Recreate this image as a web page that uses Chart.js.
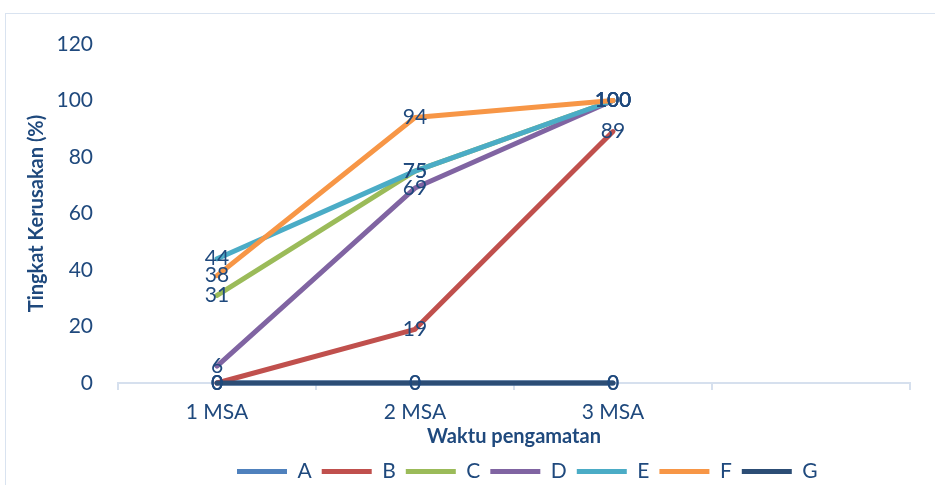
<!DOCTYPE html>
<html>
<head>
<meta charset="utf-8">
<script src="https://cdn.jsdelivr.net/npm/chart.js@4/dist/chart.umd.min.js"></script>
<style>
  html, body { margin: 0; padding: 0; background: #fff; overflow: hidden; }
  #frame { position: absolute; left: 5px; top: 13px; width: 960px; height: 500px; border: 1px solid #D9E3F0; }
  #wrap { position: absolute; left: 0; top: 0; width: 935px; height: 492px; }
</style>
</head>
<body>
<div id="frame"></div>
<div id="wrap"><canvas id="chart" width="935" height="492"></canvas></div>
<script>
// data
const categories = ['1 MSA', '2 MSA', '3 MSA', ''];
const seriesNames = ['A', 'B', 'C', 'D', 'E', 'F', 'G'];
const seriesA = [0, 0, 0];
const seriesB = [0, 19, 89];
const seriesC = [31, 75, 100];
const seriesD = [6, 69, 100];
const seriesE = [44, 75, 100];
const seriesF = [38, 94, 100];
const seriesG = [0, 0, 0];
const yTicks = [0, 20, 40, 60, 80, 100, 120];

const seriesValues = [seriesA, seriesB, seriesC, seriesD, seriesE, seriesF, seriesG];
const colors = ['#4F81BD', '#C0504D', '#9BBB59', '#8064A2', '#4BACC6', '#F79646', '#2C4D75'];
const textColor = '#1F497D';
const axisColor = '#D6E0EE';
const fontFamily = 'Lato, "Open Sans", sans-serif';

// draw each value as a label centred on its point
const pointLabels = {
    id: 'pointLabels',
    afterDatasetsDraw(chart) {
        const ctx = chart.ctx;
        ctx.save();
        ctx.font = '21px ' + fontFamily;
        ctx.fillStyle = textColor;
        ctx.textAlign = 'center';
        ctx.textBaseline = 'middle';
        chart.data.datasets.forEach((ds, i) => {
            const meta = chart.getDatasetMeta(i);
            meta.data.forEach((pt, j) => {
                ctx.fillText(String(ds.data[j]), pt.x, pt.y);
            });
        });
        ctx.restore();
    }
};

// move the legend row so it starts where the original one does
const legendStartX = 237;
const legendShift = {
    id: 'legendShift',
    afterLayout(chart) {
        const lg = chart.legend;
        if (!lg || !lg.lineWidths) return;
        const pad = lg.options.labels.padding;
        const start = (lg.left + pad + lg.right - lg.lineWidths[0]) / 2;
        const dx = legendStartX - start;
        lg.left += dx;
        lg.right += dx;
    }
};

const ctx = document.getElementById('chart').getContext('2d');
new Chart(ctx, {
    type: 'line',
    data: {
        labels: categories,
        datasets: seriesNames.map((name, i) => ({
            label: name,
            data: seriesValues[i],
            borderColor: colors[i],
            backgroundColor: colors[i],
            borderWidth: 5,
            borderCapStyle: 'round',
            borderJoinStyle: 'round',
            pointRadius: 0,
            tension: 0,
            fill: false,
            clip: false,
            order: seriesNames.length - i
        }))
    },
    options: {
        responsive: false,
        animation: false,
        layout: { padding: { top: 44, right: 25, left: 0, bottom: 0 } },
        plugins: {
            tooltip: { enabled: false },
            legend: {
                position: 'bottom',
                labels: {
                    usePointStyle: true,
                    pointStyle: 'line',
                    pointStyleWidth: 50,
                    padding: 10,
                    color: textColor,
                    font: { family: fontFamily, size: 21 },
                    sort: (a, b) => a.datasetIndex - b.datasetIndex
                }
            }
        },
        scales: {
            x: {
                offset: true,
                grid: {
                    display: true,
                    offset: true,
                    drawOnChartArea: false,
                    drawTicks: true,
                    tickLength: 7,
                    color: axisColor,
                    lineWidth: 2
                },
                border: { display: true, color: axisColor, width: 2 },
                ticks: {
                    color: textColor,
                    padding: 10,
                    maxRotation: 0,
                    font: { family: fontFamily, size: 21 }
                },
                title: {
                    display: true,
                    text: 'Waktu pengamatan',
                    color: textColor,
                    padding: { top: 0, bottom: 2 },
                    font: { family: fontFamily, size: 20, weight: 'bold' }
                },
                afterFit: (scale) => { scale.height = 68; }
            },
            y: {
                min: 0,
                max: 120,
                grid: { display: false, drawTicks: false },
                border: { display: false },
                afterBuildTicks: (scale) => { scale.ticks = yTicks.map(v => ({ value: v })); },
                ticks: {
                    color: textColor,
                    padding: 25,
                    font: { family: fontFamily, size: 21 }
                },
                title: {
                    display: true,
                    text: 'Tingkat Kerusakan (%)',
                    color: textColor,
                    padding: { top: 25, bottom: 0 },
                    font: { family: fontFamily, size: 20, weight: 'bold' }
                },
                afterFit: (scale) => { scale.width = 118; }
            }
        }
    },
    plugins: [pointLabels, legendShift]
});
</script>
</body>
</html>
